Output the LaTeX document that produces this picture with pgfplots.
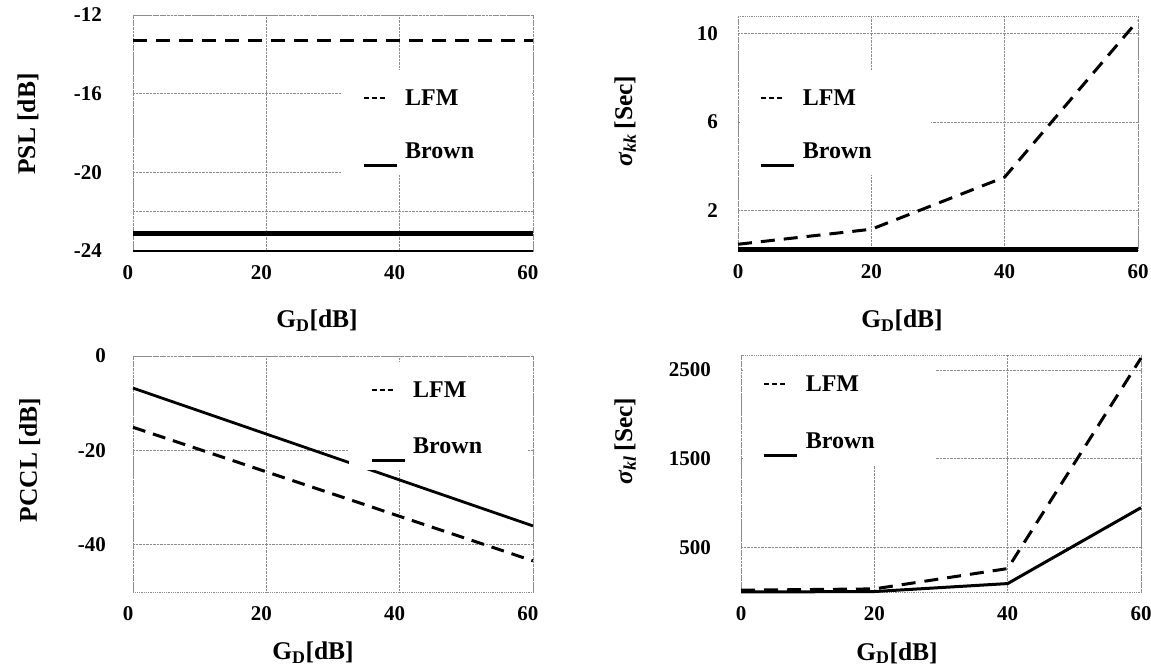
\documentclass[border=0pt]{standalone}
\usepackage{fontspec}
\setmainfont{Liberation Serif}
\usepackage{pgfplots}
\pgfplotsset{compat=1.18}

\pgfplotsset{
  panel/.style={
    scale only axis, width=400pt,
    xmin=0, xmax=60, xtick={0,20,40,60},
    clip=false,
    grid=major,
    grid style={densely dotted, black!45, line width=0.8pt},
    axis line style={densely dotted, black!45, line width=0.8pt},
    major tick length=0pt,
    scaled y ticks=false,
    /pgf/number format/assume math mode=true,
    /pgf/number format/1000 sep={},
    tick label style={font=\bfseries\fontsize{21}{21}\selectfont},
    xticklabel style={anchor=north, inner sep=0pt, yshift=-14pt},
    yticklabel style={anchor=east, inner sep=0pt},
    label style={font=\bfseries\fontsize{25.5}{26}\selectfont},
    xlabel={G\textsubscript{D}[dB]},
    legend style={draw=none, fill=white, anchor=north west,
      inner xsep=21pt, inner ysep=8pt, column sep=7pt,
      font=\bfseries\fontsize{24}{24}\selectfont, nodes={inner sep=0pt}},
    legend cell align=left,
  },
  lfm/.style={black, mark=none, line width=3pt, dash pattern=on 14pt off 9pt,
    legend image code/.code={
      \path[draw=none, fill=none] (0pt,20pt) -- (0pt,0pt);
      \draw[black, solid, line width=2pt, dash pattern=on 5pt off 3pt] (0pt,0pt) -- (21pt,0pt);}},
  brown/.style={black, mark=none, line width=3pt,
    legend image code/.code={\draw[black, solid, line width=3pt] (0pt,-14pt) -- (33pt,-14pt);}},
}

\begin{document}
\begin{tikzpicture}
\useasboundingbox (0,0) rectangle (1151pt,671pt);

% PSL
\begin{axis}[panel, at={(133pt,420pt)}, anchor=south west, height=236pt,
  ymin=-24, ymax=-12, ytick={-24,-20,-16,-12},
  extra y ticks={-22}, extra y tick labels={},
  extra tick style={grid=major, major tick length=0pt},
  xticklabel style={xshift=-5pt},
  yticklabel style={xshift=-31pt},
  ylabel={PSL [dB]},
  ylabel style={at={(axis description cs:-0.245,0.538)}, anchor=base},
  xlabel style={at={(axis description cs:0.46,-0.326)}, anchor=base},
  legend style={at={(0.52,0.767)}, row sep=36pt, nodes={text width=106pt}},
]
\addplot[black, mark=none, line width=1.5pt, forget plot] coordinates {(0,-24) (60,-24)};
\addplot[lfm, line width=3.8pt] coordinates {(0,-13.3) (60,-13.3)};
\addlegendentry{LFM}
\addplot[brown, line width=4.5pt] coordinates {(0,-23.1) (60,-23.1)};
\addlegendentry{Brown}
\end{axis}

% sigma_kk
\begin{axis}[panel, at={(738pt,421pt)}, anchor=south west, height=234pt,
  ymin=0.2, ymax=10.8, ytick={2,6,10},
  yticklabel style={xshift=-20pt},
  ylabel={\textit{σ}\textsubscript{\textit{kk}}\,[Sec]},
  ylabel style={at={(axis description cs:-0.265,0.551)}, anchor=base},
  xlabel style={at={(axis description cs:0.41,-0.333)}, anchor=base},
  legend style={at={(0.004,0.769)}, inner xsep=20pt, row sep=36pt, nodes={text width=108pt}},
]
\addplot[lfm] coordinates {(0,0.46) (20,1.14) (40,3.5) (60,10.6)};
\addlegendentry{LFM}
\addplot[brown, line width=5pt] coordinates {(0,0.2) (60,0.2)};
\addlegendentry{Brown}
\end{axis}

% PCCL
\begin{axis}[panel, at={(133pt,79pt)}, anchor=south west, height=236pt,
  ymin=-50, ymax=0, ytick={-40,-20,0},
  xticklabel style={xshift=-5pt},
  yticklabel style={xshift=-27pt},
  ylabel={PCCL [dB]},
  ylabel style={at={(axis description cs:-0.24,0.559)}, anchor=base},
  xlabel style={at={(axis description cs:0.45,-0.288)}, anchor=base},
  legend style={at={(0.54,0.975)}, row sep=39pt, nodes={text width=94pt}},
]
\addplot[lfm, dash pattern=on 13pt off 8pt] coordinates {(0,-15.1) (60,-43.4)};
\addlegendentry{LFM}
\addplot[brown, line width=2.8pt] coordinates {(0,-6.8) (60,-36)};
\addlegendentry{Brown}
\end{axis}

% sigma_kl
\begin{axis}[panel, at={(741pt,79pt)}, anchor=south west, height=237pt,
  ymin=0, ymax=2670, ytick={500,1500,2500},
  yticklabel style={xshift=-30pt},
  ylabel={\textit{σ}\textsubscript{\textit{kl}}\,[Sec]},
  ylabel style={at={(axis description cs:-0.2725,0.637)}, anchor=base},
  xlabel style={at={(axis description cs:0.39,-0.287)}, anchor=base},
  legend style={at={(0.004,0.995)}, inner xsep=20pt, row sep=40pt, nodes={text width=109pt}},
]
\addplot[lfm] coordinates {(0,20) (20,35) (40,264) (60,2635)};
\addlegendentry{LFM}
\addplot[brown] coordinates {(0,0) (20,5) (40,95) (60,950)};
\addlegendentry{Brown}
\end{axis}
\end{tikzpicture}
\end{document}
